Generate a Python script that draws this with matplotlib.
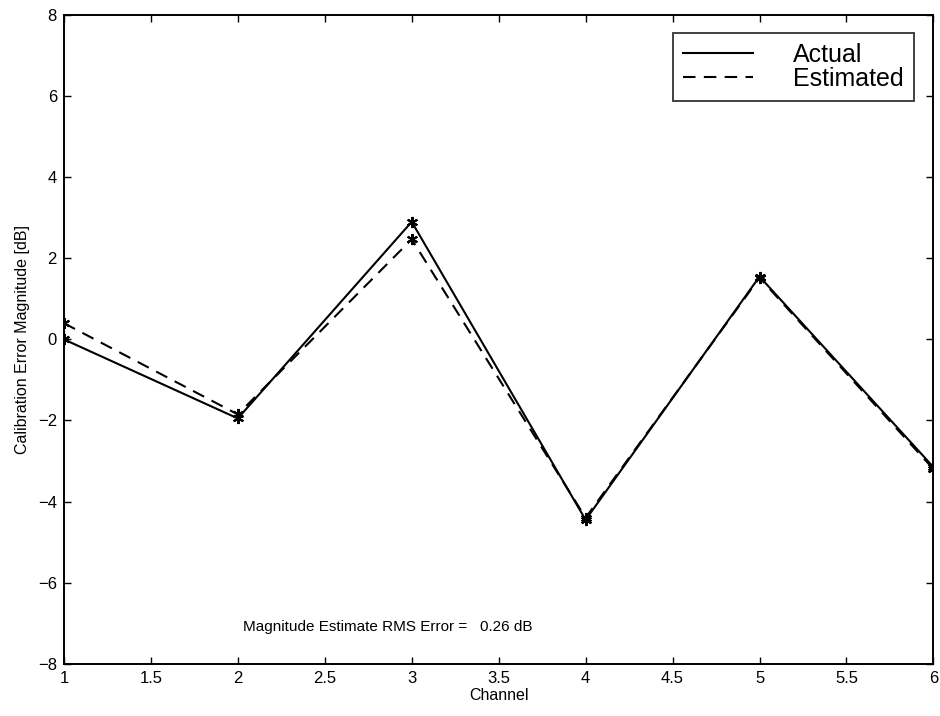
import matplotlib.pyplot as plt
import numpy as np

plt.rcParams['font.family'] = ['Liberation Sans', 'DejaVu Sans']

channel = [1, 2, 3, 4, 5, 6]
actual = [0.0, -1.95, 2.9, -4.45, 1.55, -3.15]
estimated = [0.4, -1.85, 2.47, -4.4, 1.52, -3.2]
rms_text = 'Magnitude Estimate RMS Error =   0.26 dB'

fig = plt.figure(figsize=(9.4, 7.16), dpi=100)
ax = fig.add_axes([0.068, 0.073, 0.925, 0.906])

ax.plot(channel, actual, '-', color='black', lw=1.5, label='Actual')
ax.plot(channel, estimated, '--', color='black', lw=1.5, dashes=(6, 4), label='Estimated')
# asterisk markers on top of both curves
ax.plot(channel, actual, color='black', marker=(6, 2, 0), ms=8, mew=1.5, ls='none')
ax.plot(channel, estimated, color='black', marker=(6, 2, 0), ms=8, mew=1.5, ls='none')

ax.set_xlim(1, 6)
ax.set_ylim(-8, 8)
ax.set_xticks(np.arange(1, 6.01, 0.5))
ax.set_xticklabels(['1', '1.5', '2', '2.5', '3', '3.5', '4', '4.5', '5', '5.5', '6'])
ax.set_yticks(np.arange(-8, 8.01, 2))
ax.tick_params(direction='in', top=True, right=True, length=5, width=1,
               labelsize=12, pad=5)
for s in ax.spines.values():
    s.set_linewidth(1.4)

ax.set_xlabel('Channel', fontsize=11.5, labelpad=2)
ax.set_ylabel('Calibration Error Magnitude [dB]', fontsize=11.5, labelpad=6)

ax.text(2.03, -7.1, rms_text, fontsize=11, va='center', ha='left')

leg = ax.legend(loc='upper right', bbox_to_anchor=(0.9775, 0.973), fontsize=18,
                frameon=True, fancybox=False, edgecolor='black',
                handlelength=2.8, handletextpad=1.6, labelspacing=0.0,
                borderpad=0.4, borderaxespad=0)
leg.get_frame().set_linewidth(1.3)

fig.savefig('out.png', dpi=100)
